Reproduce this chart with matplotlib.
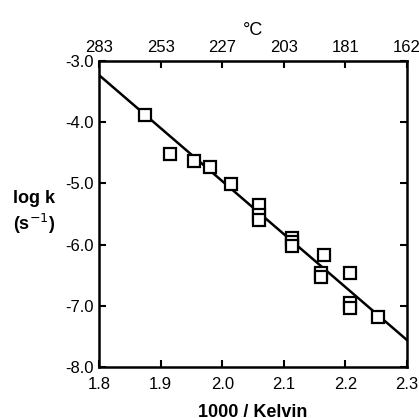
import matplotlib
matplotlib.use("Agg")
import matplotlib.pyplot as plt

plt.rcParams['font.family'] = ['Liberation Sans', 'DejaVu Sans']

# data (1000/K, log k)
inv_T = [1.875, 1.916, 1.954, 1.981, 2.015, 2.060, 2.060, 2.060,
         2.114, 2.114, 2.114, 2.165, 2.161, 2.161, 2.207, 2.207, 2.207, 2.253]
log_k = [-3.88, -4.52, -4.63, -4.74, -5.01, -5.36, -5.52, -5.59,
         -5.90, -5.95, -6.03, -6.17, -6.47, -6.53, -6.47, -6.96, -7.04, -7.19]

fit_x = [1.8, 2.3]
fit_y = [-3.23, -7.56]

x_ticks = [1.8, 1.9, 2.0, 2.1, 2.2, 2.3]
y_ticks = [-3.0, -4.0, -5.0, -6.0, -7.0, -8.0]
top_ticks = [1.8, 1.9, 2.0, 2.1, 2.2, 2.3]
top_labels = ['283', '253', '227', '203', '181', '162']

fig = plt.figure(figsize=(4.19, 4.18), dpi=100)
ax = fig.add_axes([99/419, 51/418, 308/419, 306/418])

ax.plot(fit_x, fit_y, color='black', lw=1.8)
ax.plot(inv_T, log_k, 's', mfc='white', mec='black', ms=8.5, mew=1.6, zorder=3)

ax.set_xlim(1.8, 2.3)
ax.set_ylim(-8.0, -3.0)
ax.set_xticks(x_ticks)
ax.set_xticklabels([f"{v:.1f}" for v in x_ticks])
ax.set_yticks(y_ticks)
ax.set_yticklabels([f"{v:.1f}" for v in y_ticks])
ax.tick_params(axis='x', direction='in', length=5, width=1.5, labelsize=12, pad=7)
ax.tick_params(axis='y', direction='in', length=5, width=1.5, labelsize=12, right=True, pad=4)
for s in ax.spines.values():
    s.set_linewidth(1.8)

top = ax.secondary_xaxis('top')
top.set_xticks(top_ticks)
top.set_xticklabels(top_labels)
top.tick_params(direction='in', length=5, width=1.5, labelsize=12, pad=4)
top.set_xlabel('°C', fontsize=13, labelpad=4)

ax.set_xlabel('1000 / Kelvin', fontsize=13, fontweight='bold', labelpad=9)
fig.text(34/419, 1 - 213/418, 'log k\n(s$^{-1}$)', ha='center', va='center',
         fontsize=13, fontweight='bold', linespacing=1.25)

fig.savefig('out.png', dpi=100)
